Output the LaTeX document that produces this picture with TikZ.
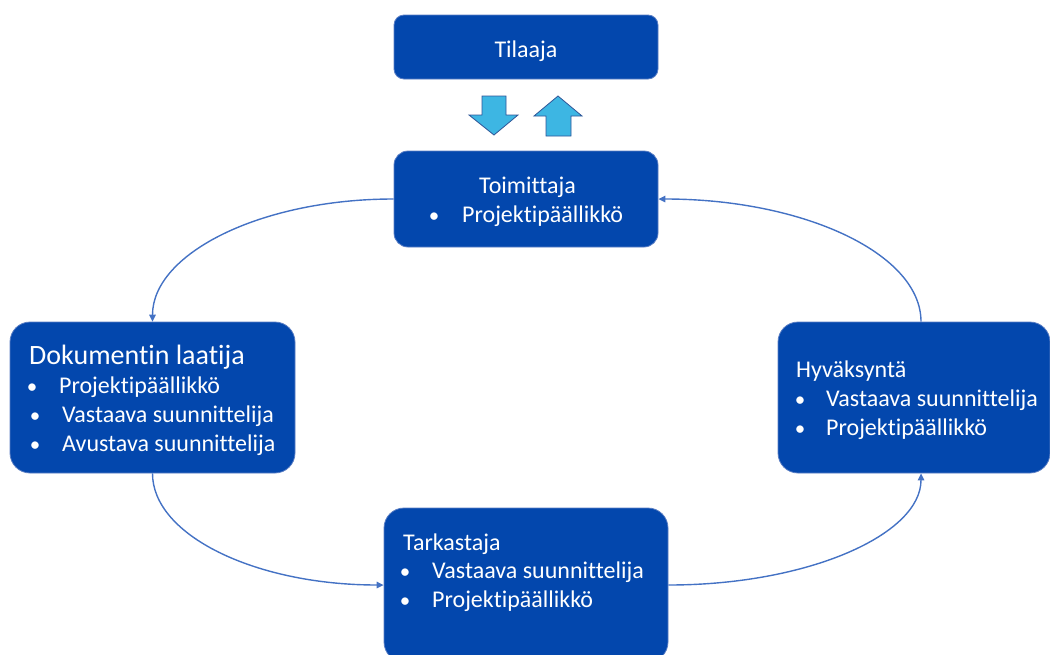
\documentclass[tikz,border=0pt]{standalone}
\usepackage{fontspec}
\setmainfont[Ligatures=NoCommon]{Carlito}
\usetikzlibrary{arrows.meta}

\definecolor{boxblue}{HTML}{0347AD}
\definecolor{boxedge}{HTML}{5A7EC4}
\definecolor{linkblue}{HTML}{4472C4}
\definecolor{arrowfill}{HTML}{3DB6E3}
\definecolor{arrowedge}{HTML}{2F5597}

\tikzset{
  box/.style={draw=boxedge, line width=0.8pt, fill=boxblue, rounded corners=#1, inner sep=0pt},
  box/.default=20pt,
  txt/.style={text=white, font=\fontsize{24}{28}\selectfont, inner sep=0pt},
  bigtxt/.style={text=white, font=\fontsize{28}{32}\selectfont, inner sep=0pt},
  bul/.style={text=white, font=\fontsize{21}{25}\selectfont, inner sep=0pt, anchor=base},
  link/.style={draw=linkblue, line width=1.4pt, -{Triangle[length=7pt,width=6.5pt]}},
  bigarrow/.style={fill=arrowfill, draw=arrowedge, line width=0.8pt, line join=miter},
}

\begin{document}
\begin{tikzpicture}[x=1pt, y=-1pt]
\useasboundingbox (0,0) rectangle (1050,654);
\clip (0,0) rectangle (1050,654);

% boxes
\node[box=10pt, minimum width=264pt, minimum height=64pt] (tilaaja) at (526,47) {};
\node[box=14pt, minimum width=264pt, minimum height=96pt] (toim) at (526,199) {};
\node[box, minimum width=285pt, minimum height=151pt] (laat) at (152.5,397.5) {};
\node[box, minimum width=272pt, minimum height=151pt] (hyv) at (914,397.5) {};
\node[box, minimum width=284pt, minimum height=154pt] (tark) at (526,585) {};

% Tilaaja
\node[txt, anchor=base] (tilaaja-t) at (526,57) {Tilaaja};

% Toimittaja
\node[txt, anchor=base west] (toim-h) at (479,193) {Toimittaja};
\node[bul] (toim-b1) at (434,222) {•};
\node[txt, anchor=base west] (toim-1) at (462,222) {Projektipäällikkö};

% Dokumentin laatija
\node[bigtxt, anchor=base west] (laat-h) at (29,364) {Dokumentin laatija};
\node[bul] (laat-b1) at (32,393) {•};
\node[txt, anchor=base west] (laat-1) at (59,393) {Projektipäällikkö};
\node[bul] (laat-b2) at (35,422) {•};
\node[txt, anchor=base west] (laat-2) at (62,422) {Vastaava suunnittelija};
\node[bul] (laat-b3) at (35,451) {•};
\node[txt, anchor=base west] (laat-3) at (62,451) {Avustava suunnittelija};

% Hyväksyntä
\node[txt, anchor=base west] (hyv-h) at (796,377) {Hyväksyntä};
\node[bul] (hyv-b1) at (800,406) {•};
\node[txt, anchor=base west] (hyv-1) at (826,406) {Vastaava suunnittelija};
\node[bul] (hyv-b2) at (800,435) {•};
\node[txt, anchor=base west] (hyv-2) at (826,435) {Projektipäällikkö};

% Tarkastaja
\node[txt, anchor=base west] (tark-h) at (403,550) {Tarkastaja};
\node[bul] (tark-b1) at (405,578) {•};
\node[txt, anchor=base west] (tark-1) at (432,578) {Vastaava suunnittelija};
\node[bul] (tark-b2) at (405,607) {•};
\node[txt, anchor=base west] (tark-2) at (432,607) {Projektipäällikkö};

% block arrows between Tilaaja and Toimittaja
\draw[bigarrow] (482,96) -- (506,96) -- (506,115) -- (518,115) -- (494,135)
  -- (469,115) -- (482,115) -- cycle;
\draw[bigarrow] (558,96) -- (582,116) -- (571,116) -- (571,136) -- (546,136)
  -- (546,116) -- (534,116) -- cycle;

% cycle connectors
\coordinate (hyv-in) at ([xshift=7pt]hyv.south);
\coordinate (hyv-out) at ([xshift=7pt]hyv.north);
\draw[link] (toim.west) .. controls +(-133,0) and +(0,-68) .. (laat.north);
\draw[link] (laat.south) .. controls +(0,62) and +(-128,0) .. (tark.west);
\draw[link] (tark.east) .. controls +(140,0) and +(0,61) .. (hyv-in);
\draw[link] (hyv-out) .. controls +(0,-68) and +(145,0) .. (toim.east);
\end{tikzpicture}
\end{document}
